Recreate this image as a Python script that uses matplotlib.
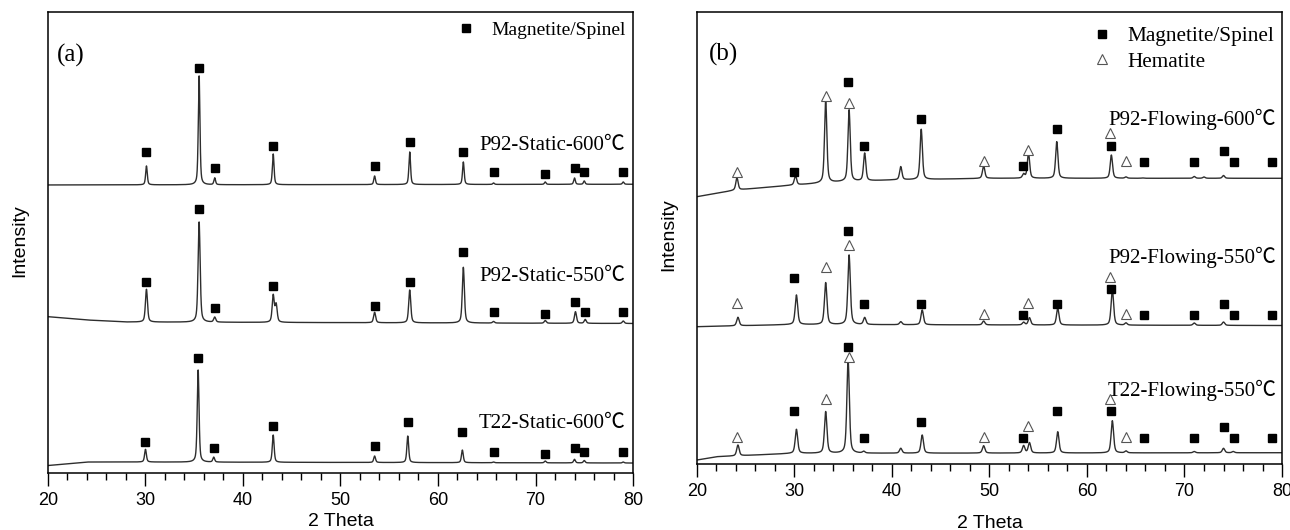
import numpy as np
import matplotlib
matplotlib.use('Agg')
import matplotlib.pyplot as plt
from matplotlib.ticker import MultipleLocator

plt.rcParams['font.family'] = ['Liberation Sans', 'DejaVu Sans']
SERIF = ['Liberation Serif', 'Noto Sans CJK SC', 'DejaVu Sans']

# ---- panel (a): static ----
a_labels = ['P92-Static-600℃', 'P92-Static-550℃', 'T22-Static-600℃']
a_label_y = [327, 196, 50]

a1_base_x = [20, 80]
a1_base_y = [288, 288.7]
a1_pos = [30.1, 35.5, 37.1, 43.1, 53.5, 57.1, 62.6, 65.7, 71.0, 74.0, 75.0, 79.0]
a1_top = [307, 397, 295, 319, 297, 321, 311, 290, 291, 295, 292, 291]
a1_mark = [321, 405, 305, 327, 307, 331, 321, 301, 299, 305, 301, 301]

a2_base_x = [20, 24, 28, 80]
a2_base_y = [156.3, 153, 151, 149.5]
a2_pos = [30.1, 35.5, 37.1, 43.1, 43.4, 53.5, 57.1, 62.6, 65.7, 71.0, 74.1, 75.1, 79.0]
a2_top = [183.7, 251, 155.7, 177.3, 168, 160.7, 183, 205.7, 151.5, 152.5, 161.3, 153.5, 152]
a2_mark_pos = [30.1, 35.5, 37.1, 43.1, 53.5, 57.1, 62.6, 65.7, 71.0, 74.1, 75.1, 79.0]
a2_mark = [190.7, 264, 164.7, 187, 167.3, 190.7, 220.7, 160.7, 159, 170.7, 160.7, 160.7]

a3_base_x = [20, 24, 30, 80]
a3_base_y = [7.5, 11, 11, 10]
a3_pos = [30.0, 35.4, 37.0, 43.1, 53.5, 56.9, 62.5, 65.7, 71.0, 74.0, 75.0, 79.0]
a3_top = [23.7, 103, 15.7, 38, 17, 37, 23, 11, 12, 13.7, 12.5, 11]
a3_mark = [31, 115, 24.7, 47, 27, 51, 41.3, 21, 19, 24.7, 21, 21]

# ---- panel (b): flowing ----
b_labels = ['P92-Flowing-600℃', 'P92-Flowing-550℃', 'T22-Flowing-550℃']
b_label_y = [345, 207, 74]

b1_base_x = [20, 24, 30, 35, 40, 50, 80]
b1_base_y = [267.3, 274, 279, 282.3, 284, 285.7, 285.7]
b1_pos = [24.1, 30.1, 33.2, 35.6, 37.2, 40.9, 43.0, 49.4, 53.5, 54.0, 56.9, 62.5, 64.0, 65.7, 71.0, 72.0, 74.0]
b1_top = [286.3, 288.3, 364, 354, 310.7, 297.3, 334.7, 298.3, 289.7, 311, 322.3, 309, 287, 286, 287.5, 287, 288.5]
b1_sq_pos = [30.0, 35.5, 37.1, 43.0, 53.4, 56.9, 62.5, 65.8, 71.0, 74.0, 75.1, 79.0]
b1_sq = [292.3, 382.3, 318.3, 345, 298, 334.7, 318.3, 302.3, 302.3, 313, 302.3, 302.3]
b1_tri_pos = [24.1, 33.2, 35.6, 49.4, 54.0, 62.4, 64.0]
b1_tri = [292.3, 368, 361.3, 303.3, 314, 330.7, 303]

b2_base_x = [20, 30, 80]
b2_base_y = [137.3, 139.5, 138.5]
b2_pos = [24.2, 30.2, 33.2, 35.6, 37.2, 40.9, 43.1, 49.4, 53.5, 54.1, 57.0, 62.6, 64.0, 71.0, 74.0]
b2_top = [146.7, 169, 181.3, 209, 146.3, 142.3, 154, 143, 141.7, 146.3, 155.7, 174.7, 141, 141, 142]
b2_sq = [185.7, 233.3, 159.7, 159.7, 149, 159.7, 175, 149, 149, 159.7, 149, 149]
b2_tri = [160.7, 197.3, 219, 149.7, 160.7, 187.3, 149.7]

b3_base_x = [20, 22, 30, 80]
b3_base_y = [4, 7.3, 10.7, 11.3]
b3_pos = [24.2, 30.2, 33.2, 35.5, 37.1, 40.9, 43.1, 49.4, 53.5, 54.1, 57.0, 62.6, 64.0, 71.0, 74.0, 75.0]
b3_top = [19, 34.7, 52.3, 104, 12.5, 15.7, 29, 18.3, 18.3, 21.3, 32.3, 43.3, 13, 12.5, 15.7, 12.5]
b3_sq = [53, 116.7, 26.3, 42.3, 26.3, 53, 53, 26.3, 26.3, 37.3, 26.3, 26.3]
b3_tri = [27.3, 64.7, 107.3, 27.3, 38.3, 64.7, 27.3]

tt = np.arange(20, 80.001, 0.02)


def pattern(base_x, base_y, pos, top, fwhm):
    base = np.interp(tt, base_x, base_y)
    y = base.copy()
    g = fwhm / 2.0
    for p, t in zip(pos, top):
        amp = t - np.interp(p, base_x, base_y)
        lor = 1.0 / (1.0 + ((tt - p) / g) ** 2)
        gau = np.exp(-np.log(2) * ((tt - p) / g) ** 2)
        y += amp * (0.5 * lor + 0.5 * gau)
    return y


fig = plt.figure(figsize=(12.9, 5.3), dpi=100)
axa = fig.add_axes([0.0372, 0.1075, 0.4535, 0.870])
axb = fig.add_axes([0.5403, 0.1245, 0.4535, 0.8529])

line_kw = dict(color='#2e2e2e', lw=1.0)
sq_kw = dict(marker='s', ls='none', color='black', ms=5.5)
tri_kw = dict(marker='^', ls='none', mfc='white', mec='#555555', ms=7.5, mew=0.8)

# panel (a)
axa.plot(tt, pattern(a1_base_x, a1_base_y, a1_pos, a1_top, 0.2), **line_kw)
axa.plot(tt, pattern(a2_base_x, a2_base_y, a2_pos, a2_top, 0.25), **line_kw)
axa.plot(tt, pattern(a3_base_x, a3_base_y, a3_pos, a3_top, 0.22), **line_kw)
hsq_a, = axa.plot(a1_pos, a1_mark, label='Magnetite/Spinel', **sq_kw)
axa.plot(a2_mark_pos, a2_mark, **sq_kw)
axa.plot(a3_pos, a3_mark, **sq_kw)
for lab, ly in zip(a_labels, a_label_y):
    axa.text(79.2, ly, lab, ha='right', va='center', fontsize=15, family=SERIF)
axa.text(0.016, 0.905, '(a)', transform=axa.transAxes, fontsize=18, family=SERIF, va='center')
axa.legend(handles=[hsq_a], loc='upper right', bbox_to_anchor=(1.017, 1.018), frameon=False,
           prop={'family': 'Liberation Serif', 'size': 14}, handletextpad=0.8, handlelength=1.0)
axa.set_ylim(0, 461)

# panel (b)
axb.plot(tt, pattern(b1_base_x, b1_base_y, b1_pos, b1_top, 0.28), **line_kw)
axb.plot(tt, pattern(b2_base_x, b2_base_y, b2_pos, b2_top, 0.3), **line_kw)
axb.plot(tt, pattern(b3_base_x, b3_base_y, b3_pos, b3_top, 0.3), **line_kw)
hsq_b, = axb.plot(b1_sq_pos, b1_sq, label='Magnetite/Spinel', **sq_kw)
axb.plot(b1_sq_pos, b2_sq, **sq_kw)
axb.plot(b1_sq_pos, b3_sq, **sq_kw)
htri_b, = axb.plot(b1_tri_pos, b1_tri, label='Hematite', **tri_kw)
axb.plot(b1_tri_pos, b2_tri, **tri_kw)
axb.plot(b1_tri_pos, b3_tri, **tri_kw)
for lab, ly in zip(b_labels, b_label_y):
    axb.text(79.4, ly, lab, ha='right', va='center', fontsize=15, family=SERIF)
axb.text(0.02, 0.905, '(b)', transform=axb.transAxes, fontsize=18, family=SERIF, va='center')
axb.legend(handles=[hsq_b, htri_b], loc='upper right', bbox_to_anchor=(1.02, 1.01), frameon=False,
           prop={'family': 'Liberation Serif', 'size': 15.3}, handletextpad=0.7, handlelength=1.0,
           labelspacing=0.25)
axb.set_ylim(0, 452)

for ax in (axa, axb):
    ax.set_xlim(20, 80)
    ax.set_yticks([])
    ax.xaxis.set_major_locator(MultipleLocator(10))
    ax.xaxis.set_minor_locator(MultipleLocator(2))
    ax.tick_params(axis='x', which='major', direction='out', length=9, width=1, labelsize=13, pad=5)
    ax.tick_params(axis='x', which='minor', direction='out', length=5, width=1)
    for s in ax.spines.values():
        s.set_linewidth(1.1)
    ax.set_xlabel('2 Theta', fontsize=14)
    ax.set_ylabel('Intensity', fontsize=14)

axa.xaxis.set_label_coords(0.5, -0.087)
axb.xaxis.set_label_coords(0.5, -0.112)
axa.yaxis.set_label_coords(-0.034, 0.505)
axb.yaxis.set_label_coords(-0.034, 0.507)

fig.savefig('out.png', dpi=100)
